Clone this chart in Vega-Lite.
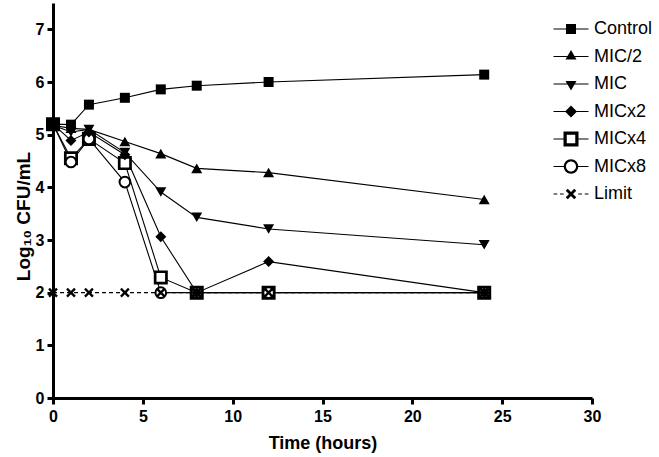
{
  "$schema": "https://vega.github.io/schema/vega-lite/v6.json",
  "width": 539,
  "height": 395,
  "autosize": "none",
  "padding": {"left": 53, "top": 3, "right": 67, "bottom": 59},
  "background": "white",
  "config": {
    "font": "Liberation Sans",
    "view": {"stroke": null},
    "axis": {
      "grid": false,
      "domainColor": "black",
      "domainWidth": 3,
      "tickColor": "black",
      "tickWidth": 3,
      "tickSize": 6,
      "labelFont": "Liberation Sans",
      "labelFontWeight": "bold",
      "labelFontSize": 16,
      "labelColor": "black",
      "titleFont": "Liberation Sans",
      "titleFontWeight": "bold",
      "titleFontSize": 18,
      "titleColor": "black",
      "labelFlush": false,
      "labelOverlap": false
    }
  },
  "data": {
    "values": [
      {"series": "Control", "time": 0, "cfu": 5.2},
      {"series": "Control", "time": 1, "cfu": 5.19},
      {"series": "Control", "time": 2, "cfu": 5.57},
      {"series": "Control", "time": 4, "cfu": 5.7},
      {"series": "Control", "time": 6, "cfu": 5.86},
      {"series": "Control", "time": 8, "cfu": 5.93},
      {"series": "Control", "time": 12, "cfu": 6.0},
      {"series": "Control", "time": 24, "cfu": 6.14},
      {"series": "MIC/2", "time": 0, "cfu": 5.18},
      {"series": "MIC/2", "time": 1, "cfu": 5.12},
      {"series": "MIC/2", "time": 2, "cfu": 5.1},
      {"series": "MIC/2", "time": 4, "cfu": 4.87},
      {"series": "MIC/2", "time": 6, "cfu": 4.64},
      {"series": "MIC/2", "time": 8, "cfu": 4.36},
      {"series": "MIC/2", "time": 12, "cfu": 4.28},
      {"series": "MIC/2", "time": 24, "cfu": 3.77},
      {"series": "MIC", "time": 0, "cfu": 5.18},
      {"series": "MIC", "time": 1, "cfu": 5.05},
      {"series": "MIC", "time": 2, "cfu": 5.1},
      {"series": "MIC", "time": 4, "cfu": 4.66},
      {"series": "MIC", "time": 6, "cfu": 3.91},
      {"series": "MIC", "time": 8, "cfu": 3.43},
      {"series": "MIC", "time": 12, "cfu": 3.21},
      {"series": "MIC", "time": 24, "cfu": 2.91},
      {"series": "MICx2", "time": 0, "cfu": 5.2},
      {"series": "MICx2", "time": 1, "cfu": 4.89},
      {"series": "MICx2", "time": 2, "cfu": 5.05},
      {"series": "MICx2", "time": 4, "cfu": 4.62},
      {"series": "MICx2", "time": 6, "cfu": 3.06},
      {"series": "MICx2", "time": 8, "cfu": 2.0},
      {"series": "MICx2", "time": 12, "cfu": 2.59},
      {"series": "MICx2", "time": 24, "cfu": 2.0},
      {"series": "MICx4", "time": 0, "cfu": 5.2},
      {"series": "MICx4", "time": 1, "cfu": 4.55},
      {"series": "MICx4", "time": 2, "cfu": 4.92},
      {"series": "MICx4", "time": 4, "cfu": 4.46},
      {"series": "MICx4", "time": 6, "cfu": 2.29},
      {"series": "MICx4", "time": 8, "cfu": 2.0},
      {"series": "MICx4", "time": 12, "cfu": 2.0},
      {"series": "MICx4", "time": 24, "cfu": 2.0},
      {"series": "MICx8", "time": 0, "cfu": 5.2},
      {"series": "MICx8", "time": 1, "cfu": 4.48},
      {"series": "MICx8", "time": 2, "cfu": 4.92},
      {"series": "MICx8", "time": 4, "cfu": 4.1},
      {"series": "MICx8", "time": 6, "cfu": 2.0},
      {"series": "MICx8", "time": 8, "cfu": 2.0},
      {"series": "MICx8", "time": 12, "cfu": 2.0},
      {"series": "MICx8", "time": 24, "cfu": 2.0},
      {"series": "Limit", "time": 0, "cfu": 2.0},
      {"series": "Limit", "time": 1, "cfu": 2.0},
      {"series": "Limit", "time": 2, "cfu": 2.0},
      {"series": "Limit", "time": 4, "cfu": 2.0},
      {"series": "Limit", "time": 6, "cfu": 2.0},
      {"series": "Limit", "time": 8, "cfu": 2.0},
      {"series": "Limit", "time": 12, "cfu": 2.0},
      {"series": "Limit", "time": 24, "cfu": 2.0}
    ]
  },
  "encoding": {
    "x": {
      "field": "time",
      "type": "quantitative",
      "scale": {"domain": [0, 30], "nice": false, "zero": true},
      "axis": {
        "values": [0, 5, 10, 15, 20, 25, 30],
        "title": "Time (hours)",
        "labelPadding": 4,
        "titleY": 50,
        "titleBaseline": "alphabetic"
      }
    },
    "y": {
      "field": "cfu",
      "type": "quantitative",
      "scale": {"domain": [0, 7.5], "nice": false, "zero": true},
      "axis": {
        "values": [0, 1, 2, 3, 4, 5, 6, 7],
        "title": "Log₁₀ CFU/mL",
        "labelPadding": 3,
        "titleFontSize": 19,
        "titleAngle": -90,
        "titleX": -24,
        "titleY": 213,
        "titleAlign": "center",
        "titleBaseline": "alphabetic"
      }
    }
  },
  "layer": [
    {
      "transform": [{"filter": "datum.series != 'Limit'"}],
      "mark": {"type": "line", "color": "black", "strokeWidth": 1.1},
      "encoding": {"detail": {"field": "series", "type": "nominal"}}
    },
    {
      "transform": [{"filter": "datum.series == 'Limit'"}],
      "mark": {"type": "line", "color": "black", "strokeWidth": 1.1, "strokeDash": [4, 3]},
      "encoding": {}
    },
    {
      "transform": [{"filter": "datum.series == 'MICx4'"}],
      "mark": {"type": "point", "shape": "square", "size": 128, "filled": false, "fill": "white", "stroke": "black", "strokeWidth": 2.7, "opacity": 1}
    },
    {
      "transform": [{"filter": "datum.series == 'MICx8'"}],
      "mark": {"type": "point", "shape": "circle", "size": 113, "filled": false, "fill": "white", "stroke": "black", "strokeWidth": 2, "opacity": 1}
    },
    {
      "transform": [{"filter": "datum.series == 'Control'"}],
      "mark": {"type": "point", "shape": "square", "size": 100, "filled": true, "color": "black", "opacity": 1}
    },
    {
      "transform": [{"filter": "datum.series == 'MIC/2'"}],
      "mark": {"type": "point", "shape": "triangle-up", "size": 121, "filled": true, "color": "black", "opacity": 1}
    },
    {
      "transform": [{"filter": "datum.series == 'MIC'"}],
      "mark": {"type": "point", "shape": "triangle-down", "size": 121, "filled": true, "color": "black", "opacity": 1}
    },
    {
      "transform": [{"filter": "datum.series == 'MICx2'"}],
      "mark": {"type": "point", "shape": "diamond", "size": 121, "filled": true, "color": "black", "opacity": 1}
    },
    {
      "transform": [{"filter": "datum.series == 'Limit'"}],
      "mark": {"type": "point", "shape": "M-1,-1L1,1M-1,1L1,-1", "size": 64, "filled": false, "stroke": "black", "strokeWidth": 2.3, "opacity": 1}
    },
    {
      "transform": [{"filter": "datum.time < 0"}],
      "mark": {"type": "point", "filled": true, "color": "black", "size": 100, "opacity": 1},
      "encoding": {
        "shape": {
          "field": "series",
          "type": "nominal",
          "scale": {
            "domain": ["Control", "MIC/2", "MIC", "MICx2", "MICx4", "MICx8", "Limit"],
            "range": [
              "M-3.5,-0.12L3.5,-0.12L3.5,0.12L-3.5,0.12ZM-1,-1L1,-1L1,1L-1,1Z",
              "M-3.5,-0.12L3.5,-0.12L3.5,0.12L-3.5,0.12ZM0,-1.28L1.1,0.62L-1.1,0.62Z",
              "M-3.5,-0.12L3.5,-0.12L3.5,0.12L-3.5,0.12ZM-1.1,-0.62L1.1,-0.62L0,1.28Z",
              "M-3.5,-0.12L3.5,-0.12L3.5,0.12L-3.5,0.12ZM0,-1.2L1.2,0L0,1.2L-1.2,0Z",
              "M-3.5,-0.12L-1.5,-0.12L-1.5,0.12L-3.5,0.12ZM1.5,-0.12L3.5,-0.12L3.5,0.12L1.5,0.12ZM-1.5,-1.5L1.5,-1.5L1.5,1.5L-1.5,1.5ZM-0.85,-0.85L-0.85,0.85L0.85,0.85L0.85,-0.85Z",
              "M-3.5,-0.12L-1.45,-0.12L-1.45,0.12L-3.5,0.12ZM1.45,-0.12L3.5,-0.12L3.5,0.12L1.45,0.12ZM-1.45,0A1.45,1.45 0 1,1 1.45,0A1.45,1.45 0 1,1 -1.45,0ZM-1,0A1,1 0 1,0 1,0A1,1 0 1,0 -1,0Z",
              "M-3.5,-0.12L-2.75,-0.12L-2.75,0.12L-3.5,0.12ZM-2.2,-0.12L-1.45,-0.12L-1.45,0.12L-2.2,0.12ZM1.45,-0.12L2.2,-0.12L2.2,0.12L1.45,0.12ZM2.75,-0.12L3.5,-0.12L3.5,0.12L2.75,0.12ZM-0.65,-1.05L1.05,0.65L0.65,1.05L-1.05,-0.65ZM-0.65,1.05L-1.05,0.65L0.65,-1.05L1.05,-0.65Z"
            ]
          },
          "legend": {
            "title": null,
            "orient": "none",
            "legendX": 509,
            "legendY": 17,
            "padding": 0,
            "labelFont": "Liberation Sans",
            "labelFontSize": 18,
            "labelColor": "black",
            "labelOffset": 14,
            "rowPadding": 9.5,
            "symbolSize": 100,
            "symbolStrokeWidth": 0,
            "symbolFillColor": "black",
            "symbolOpacity": 1,
            "encode": {
              "symbols": {
                "fill": {"value": "black"},
                "strokeWidth": {"value": 0},
                "opacity": {"value": 1}
              }
            }
          }
        }
      }
    }
  ]
}
